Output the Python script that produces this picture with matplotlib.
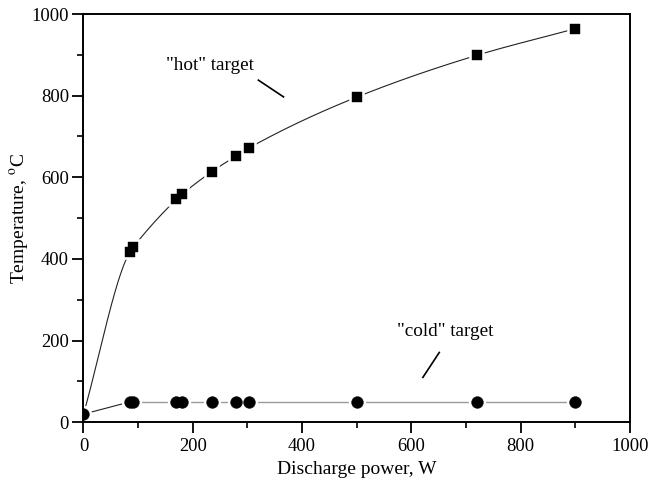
import numpy as np
import matplotlib
matplotlib.use("Agg")
import matplotlib.pyplot as plt
from matplotlib.ticker import MultipleLocator

plt.rcParams['font.family'] = ['Liberation Serif', 'DejaVu Serif']
plt.rcParams['mathtext.fontset'] = 'stix'

power = [0, 85, 91, 170, 180, 235, 279, 303, 501, 720, 900]
hot_temp = [20, 418, 429, 546, 558, 614, 652, 672, 797, 899, 964]
cold_temp = [20, 50, 50, 50, 50, 50, 50, 50, 50, 50, 50]
xticks = [0, 200, 400, 600, 800, 1000]
yticks = [0, 200, 400, 600, 800, 1000]


def pchip(x, y, xn):
    x = np.asarray(x, float); y = np.asarray(y, float)
    h = np.diff(x); d = np.diff(y) / h
    n = len(x); m = np.zeros(n)
    for k in range(1, n - 1):
        if d[k - 1] * d[k] > 0:
            w1 = 2 * h[k] + h[k - 1]; w2 = h[k] + 2 * h[k - 1]
            m[k] = (w1 + w2) / (w1 / d[k - 1] + w2 / d[k])
    m[0] = d[0]; m[-1] = d[-1]
    idx = np.clip(np.searchsorted(x, xn) - 1, 0, n - 2)
    t = (xn - x[idx]) / h[idx]
    h00 = 2 * t**3 - 3 * t**2 + 1; h10 = t**3 - 2 * t**2 + t
    h01 = -2 * t**3 + 3 * t**2; h11 = t**3 - t**2
    return h00 * y[idx] + h10 * h[idx] * m[idx] + h01 * y[idx + 1] + h11 * h[idx] * m[idx + 1]


fig = plt.figure(figsize=(6.59, 4.83), dpi=100)
ax = fig.add_axes([0.1267, 0.1257, 0.8293, 0.8453])

xs = np.linspace(power[0], power[-1], 600)
ax.plot(xs, pchip(power, hot_temp, xs), color='#222222', lw=0.8, zorder=2)
ax.plot(power[1:], cold_temp[1:], color='#999999', lw=1.0, zorder=2)
ax.plot(power[:2], cold_temp[:2], color='#222222', lw=0.8, zorder=2)

# white halos (gap style), then black markers on top
ax.plot(power, hot_temp, ls='none', marker='s', ms=7.5, mfc='white',
        mec='white', mew=4, zorder=2.5)
ax.plot(power, cold_temp, ls='none', marker='o', ms=8.5, mfc='white',
        mec='white', mew=4, zorder=2.5)
ax.plot(power[1:], hot_temp[1:], ls='none', marker='s', ms=7.5, mfc='black',
        mec='black', mew=0.3, zorder=3)
ax.plot(power, cold_temp, ls='none', marker='o', ms=8.5, mfc='black',
        mec='black', mew=0.3, zorder=3)

ax.text(231, 875, '"hot" target', fontsize=13.8, ha='center', va='center')
ax.plot([320, 366], [838, 797], color='black', lw=1.2)
ax.text(661, 222, '"cold" target', fontsize=13.8, ha='center', va='center')
ax.plot([651, 621], [171, 110], color='black', lw=1.2)

ax.set_xlim(0, 1000)
ax.set_ylim(0, 1000)
ax.set_xticks(xticks)
ax.set_yticks(yticks)
ax.xaxis.set_minor_locator(MultipleLocator(100))
ax.yaxis.set_minor_locator(MultipleLocator(100))
ax.tick_params(which='major', direction='out', length=8, width=1.3, labelsize=13.3,
               top=False, right=False)
ax.tick_params(which='minor', direction='out', length=4.5, width=1.2,
               top=False, right=False)
ax.tick_params(axis='y', which='major', pad=2.5)
for s in ax.spines.values():
    s.set_linewidth(1.4)
    s.set_zorder(5)

ax.set_xlabel('Discharge power, W', fontsize=14, labelpad=4)
ax.set_ylabel('Temperature, $^{\\mathrm{o}}$C', fontsize=14, labelpad=0)

fig.savefig('out.png', dpi=100)
